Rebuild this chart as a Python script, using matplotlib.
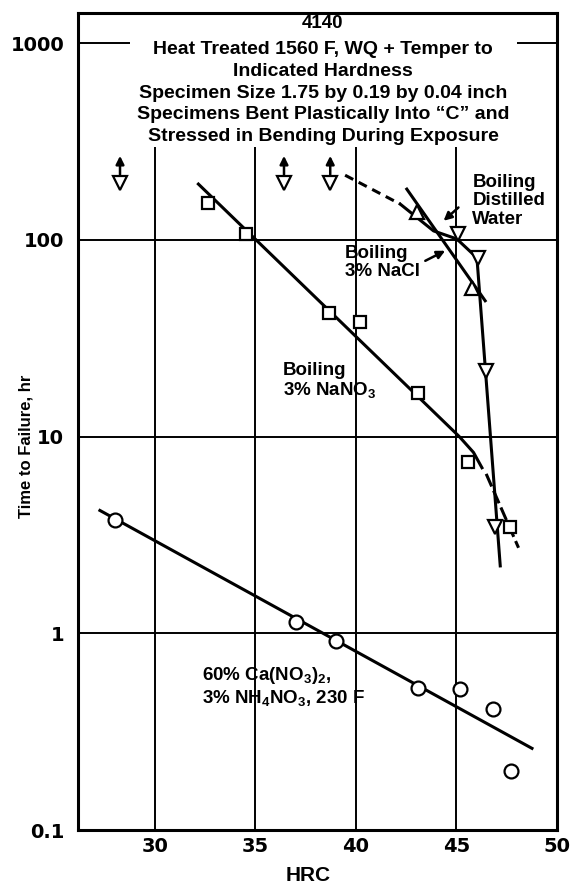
import matplotlib
matplotlib.use('Agg')
import matplotlib.pyplot as plt
from matplotlib.patches import Rectangle

plt.rcParams['font.family'] = ['Liberation Sans', 'DejaVu Sans']
plt.rcParams['font.weight'] = 'bold'
plt.rcParams['mathtext.fontset'] = 'custom'
plt.rcParams['mathtext.rm'] = 'Liberation Sans:bold'
plt.rcParams['mathtext.bf'] = 'Liberation Sans:bold'
plt.rcParams['mathtext.default'] = 'bf'

# Ca(NO3)2 + NH4NO3, 230 F (circles)
ca_hrc = [28.0, 37.0, 39.0, 43.1, 45.2, 46.8, 47.7]
ca_hr = [3.75, 1.14, 0.91, 0.53, 0.52, 0.41, 0.20]
ca_fit_hrc = [27.26, 48.76]
ca_fit_hr = [4.21, 0.26]

# boiling 3% NaNO3 (squares)
nano3_hrc = [32.65, 34.53, 38.68, 40.21, 43.08, 45.6, 47.68]
nano3_hr = [153, 107.6, 42.3, 38.4, 16.6, 7.46, 3.47]
nano3_fit_hrc = [32.16, 45.14, 45.85, 46.27]
nano3_fit_hr = [192, 10.0, 8.3, 6.94]
nano3_tail_hrc = [46.48, 48.09]
nano3_tail_hr = [6.46, 2.72]

# boiling 3% NaCl (up triangles)
nacl_hrc = [43.03, 45.77]
nacl_hr = [139, 57]
nacl_fit_hrc = [42.53, 46.43]
nacl_fit_hr = [181, 49]

# boiling distilled water (down triangles)
water_hrc = [45.1, 46.05, 46.48, 46.93]
water_hr = [107.6, 81, 21.6, 3.47]
water_dash_hrc = [39.46, 42.2]
water_dash_hr = [213, 152]
water_fit_hrc = [42.2, 43.86, 45.02, 46.02, 47.18]
water_fit_hr = [152, 111, 101, 81, 2.2]

# did not fail (runouts)
runout_hrc = [28.26, 36.42, 38.72]
runout_hr = [195, 195, 195]

xticks = [30, 35, 40, 45, 50]
yticks = [0.1, 1, 10, 100, 1000]
ytick_labels = ['0.1', '1', '10', '100', '1000']

title_top = '4140'
title_rest = ('Heat Treated 1560 F, WQ + Temper to\n'
              'Indicated Hardness\n'
              'Specimen Size 1.75 by 0.19 by 0.04 inch\n'
              'Specimens Bent Plastically Into \u201cC\u201d and\n'
              'Stressed in Bending During Exposure')

fig = plt.figure(figsize=(5.77, 8.86), dpi=100)
ax = fig.add_axes([0.1352, 0.0632, 0.830, 0.922])
ax.set_yscale('log')
ax.set_xlim(26.17, 50)
ax.set_ylim(0.1, 1420)
ax.set_xticks(xticks)
ax.set_yticks(yticks)
ax.set_yticklabels(ytick_labels)
ax.minorticks_off()
ax.tick_params(length=0, labelsize=14)
ax.tick_params(axis='x', pad=5)
ax.tick_params(axis='y', pad=10)
for lab in ax.get_xticklabels() + ax.get_yticklabels():
    lab.set_fontfamily('DejaVu Sans')
    lab.set_fontweight('bold')
ax.grid(True, color='black', lw=1.4)
ax.set_axisbelow(True)
for sp in ax.spines.values():
    sp.set_linewidth(2.2)

ax.set_xlabel('HRC', fontsize=15, fontweight='bold')
ax.xaxis.set_label_coords(0.48, -0.044)
ax.set_ylabel('Time to Failure, hr', fontsize=12, fontweight='bold')
ax.yaxis.set_label_coords(-0.093, 0.47)

# white box behind the heading
ax.add_patch(Rectangle((0.1086, 0.836), 0.808, 0.17, transform=ax.transAxes,
                       facecolor='white', edgecolor='none', zorder=1))
ax.text(0.5115, 0.9975, title_top, transform=ax.transAxes, ha='center', va='top',
        fontsize=13.5, fontweight='bold', zorder=3)
ax.text(0.5115, 0.9656, title_rest, transform=ax.transAxes, ha='center', va='top',
        fontsize=14, fontweight='bold', linespacing=1.36, zorder=3)

lw = 2.2
mk = dict(markerfacecolor='white', markeredgecolor='black', markeredgewidth=1.6,
          linestyle='none', zorder=4)

ax.plot(ca_fit_hrc, ca_fit_hr, color='black', lw=lw, zorder=3)
ax.plot(ca_hrc, ca_hr, marker='o', markersize=10, **mk)

ax.plot(nano3_fit_hrc, nano3_fit_hr, color='black', lw=lw, zorder=3)
ax.plot(nano3_tail_hrc, nano3_tail_hr, color='black', lw=lw, zorder=3,
        linestyle=(0, (4.5, 1.5)))
ax.plot(nano3_hrc, nano3_hr, marker='s', markersize=9, **mk)

ax.plot(nacl_fit_hrc, nacl_fit_hr, color='black', lw=lw, zorder=3)
ax.plot(nacl_hrc, nacl_hr, marker='^', markersize=10, **mk)

ax.plot(water_dash_hrc, water_dash_hr, color='black', lw=lw, zorder=3,
        linestyle=(0, (3, 2)))
ax.plot(water_fit_hrc, water_fit_hr, color='black', lw=lw, zorder=3)
ax.plot(water_hrc, water_hr, marker='v', markersize=10, **mk)

ax.plot(runout_hrc, runout_hr, marker='v', markersize=10, **mk)
for x, y in zip(runout_hrc, runout_hr):
    ax.annotate('', xy=(x, y * 1.37), xytext=(x, y * 1.1),
                arrowprops=dict(arrowstyle='-|>', color='black', lw=1.8,
                                mutation_scale=12, shrinkA=0, shrinkB=0),
                zorder=4)

txt = dict(fontsize=13.5, fontweight='bold', ha='left', va='top',
           linespacing=1.1, zorder=5)
ax.text(45.79, 216, 'Boiling\nDistilled\nWater', **txt)
ax.text(39.46, 94.4, 'Boiling\n3% NaCl', **txt)
ax.text(36.37, 24.0, 'Boiling\n3% NaNO$_3$', **txt)
ax.text(32.34, 0.688, '60% Ca(NO$_3$)$_2$,\n3% NH$_4$NO$_3$, 230 F', **txt)

arrow = dict(arrowstyle='-|>', color='black', lw=1.8, mutation_scale=12,
             shrinkA=0, shrinkB=0)
ax.annotate('', xy=(44.36, 124.9), xytext=(45.1, 146), arrowprops=arrow, zorder=5)
ax.annotate('', xy=(44.44, 88), xytext=(43.45, 78.2), arrowprops=arrow, zorder=5)

fig.savefig('out.png', dpi=100)
